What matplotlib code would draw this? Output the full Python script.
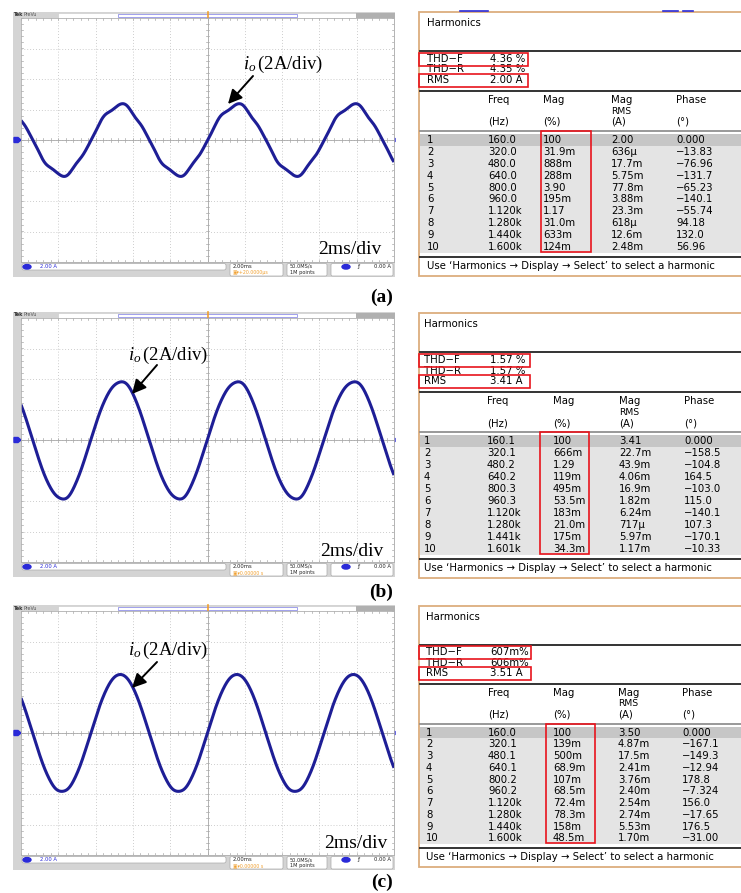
import matplotlib
matplotlib.use("Agg")
import matplotlib.pyplot as plt
from matplotlib.patches import Rectangle, FancyBboxPatch, Ellipse, Polygon
import numpy as np

W, H = 741, 893

# harmonic tables
orders = [str(n) for n in range(1, 11)]

freq_a = ["160.0", "320.0", "480.0", "640.0", "800.0", "960.0", "1.120k", "1.280k", "1.440k", "1.600k"]
mag_a = ["100", "31.9m", "888m", "288m", "3.90", "195m", "1.17", "31.0m", "633m", "124m"]
rms_a = ["2.00", "636µ", "17.7m", "5.75m", "77.8m", "3.88m", "23.3m", "618µ", "12.6m", "2.48m"]
phase_a = ["0.000", "-13.83", "-76.96", "-131.7", "-65.23", "-140.1", "-55.74", "94.18", "132.0", "56.96"]
thd_a = ["4.36 %", "4.35 %", "2.00 A"]

freq_b = ["160.1", "320.1", "480.2", "640.2", "800.3", "960.3", "1.120k", "1.280k", "1.441k", "1.601k"]
mag_b = ["100", "666m", "1.29", "119m", "495m", "53.5m", "183m", "21.0m", "175m", "34.3m"]
rms_b = ["3.41", "22.7m", "43.9m", "4.06m", "16.9m", "1.82m", "6.24m", "717µ", "5.97m", "1.17m"]
phase_b = ["0.000", "-158.5", "-104.8", "164.5", "-103.0", "115.0", "-140.1", "107.3", "-170.1", "-10.33"]
thd_b = ["1.57 %", "1.57 %", "3.41 A"]

freq_c = ["160.0", "320.1", "480.1", "640.1", "800.2", "960.2", "1.120k", "1.280k", "1.440k", "1.600k"]
mag_c = ["100", "139m", "500m", "68.9m", "107m", "68.5m", "72.4m", "78.3m", "158m", "48.5m"]
rms_c = ["3.50", "4.87m", "17.5m", "2.41m", "3.76m", "2.40m", "2.54m", "2.74m", "5.53m", "1.70m"]
phase_c = ["0.000", "-167.1", "-149.3", "-12.94", "178.8", "-7.324", "156.0", "-17.65", "176.5", "-31.00"]
thd_c = ["607m%", "606m%", "3.51 A"]

# fundamental peak as seen on screen (A), scope at 2 A/div, 2 ms/div
peak_a, peak_b, peak_c = 2.3, 3.86, 3.86
delay_a = "+20.0000µs"
delay_b = "0.00000 s"
delay_c = "0.00000 s"

plt.rcParams["mathtext.fontset"] = "custom"
plt.rcParams["mathtext.it"] = "Liberation Serif:italic"
plt.rcParams["mathtext.rm"] = "Liberation Serif"

BLUE = "#1e1e96"
TEK_BLUE = "#2a2ad8"
ORANGE = "#f0a030"
RED = "#e8141c"


def eng(s):
    mult = {"k": 1e3, "m": 1e-3, "µ": 1e-6}
    s = s.strip()
    if s[-1] in mult:
        return float(s[:-1]) * mult[s[-1]]
    return float(s)


def trace(t_ms, freq, mag, phase, peak):
    # phases are cosine phases relative to the fundamental, whose rising zero is at screen centre
    f1 = eng(freq[0])
    tt = t_ms * 1e-3 - 0.25 / f1
    y = np.zeros_like(t_ms)
    for f, m, p in zip(freq, mag, phase):
        y += eng(m) / 100 * np.cos(2 * np.pi * eng(f) * tt + np.radians(float(p)))
    return peak * y


fig = plt.figure(figsize=(W / 100, H / 100), dpi=100)
bg = fig.add_axes([0, 0, 1, 1])
bg.set_xlim(0, W)
bg.set_ylim(H, 0)
bg.axis("off")
fg = fig.add_axes([0, 0, 1, 1], zorder=5)
fg.set_xlim(0, W)
fg.set_ylim(H, 0)
fg.axis("off")
fg.patch.set_alpha(0)


def scope(y0, freq, mag, phase, peak, delay, txt_xy, arr_from, arr_to, div_xy, label, label_y):
    # frame
    bg.add_patch(Rectangle((13, y0), 382, 265, facecolor="#d4d4d4", edgecolor="none"))
    # top bar
    bg.text(14, y0 + 3, "Tek", fontsize=3.6, weight="bold", va="center", color="#333")
    bg.text(24, y0 + 3, "PreVu", fontsize=3.4, va="center", color="#555")
    bg.add_patch(Rectangle((58, y0 + 0.8), 298, 5, facecolor="white", edgecolor="#c8c8c8", lw=0.4))
    bg.add_patch(Rectangle((118, y0 + 1.6), 179, 3.4, facecolor="none", edgecolor="#9090e8", lw=0.6))
    bg.add_patch(Rectangle((356, y0 + 0.8), 39, 5, facecolor="#b0b0b0", edgecolor="none"))
    # status bar
    bg.add_patch(FancyBboxPatch((22, y0 + 251.5), 204, 6.5, boxstyle="round,pad=0,rounding_size=2",
                                facecolor="white", edgecolor="#aaaaaa", lw=0.5))
    bg.add_patch(Ellipse((27, y0 + 254.8), 8, 4.5, color=TEK_BLUE))
    bg.text(40, y0 + 254.8, "2.00 A", fontsize=3.8, color=TEK_BLUE, va="center")
    bg.add_patch(FancyBboxPatch((230, y0 + 251.5), 53, 12.5, boxstyle="round,pad=0,rounding_size=1.5",
                                facecolor="white", edgecolor="#aaaaaa", lw=0.5))
    bg.text(233, y0 + 254.5, "2.00ms", fontsize=3.8, color="#222", va="center")
    bg.text(233, y0 + 260.5, "▣▾" + delay, fontsize=3.4, color=ORANGE, va="center")
    bg.add_patch(FancyBboxPatch((287, y0 + 251.5), 40, 12.5, boxstyle="round,pad=0,rounding_size=1.5",
                                facecolor="white", edgecolor="#aaaaaa", lw=0.5))
    bg.text(290, y0 + 254.5, "50.0MS/s", fontsize=3.6, color="#222", va="center")
    bg.text(290, y0 + 260.5, "1M points", fontsize=3.6, color="#222", va="center")
    bg.add_patch(FancyBboxPatch((331, y0 + 251.5), 62, 12.5, boxstyle="round,pad=0,rounding_size=1.5",
                                facecolor="white", edgecolor="#aaaaaa", lw=0.5))
    bg.add_patch(Ellipse((346, y0 + 254.8), 8, 4.5, color=TEK_BLUE))
    bg.text(357, y0 + 254.8, "ƒ", fontsize=4.2, color="#222", va="center")
    bg.text(391, y0 + 254.8, "0.00 A", fontsize=3.8, color="#222", va="center", ha="right")

    # screen
    ax = fig.add_axes([21 / W, 1 - (y0 + 250) / H, 373 / W, 244 / H], zorder=2)
    ax.set_xlim(-10, 10)
    ax.set_ylim(-8, 8)
    ax.set_xticks([])
    ax.set_yticks([])
    for s in ax.spines.values():
        s.set_color("#b0b0b0")
        s.set_linewidth(0.6)
    for x in np.arange(-8, 9, 2):
        ax.axvline(x, color="#bcbcbc", lw=0.6, ls=(0, (1, 2.5)))
    for y in np.arange(-6, 7, 2):
        ax.axhline(y, color="#bcbcbc", lw=0.6, ls=(0, (1, 2.5)))
    ax.axvline(0, color="#a8a8a8", lw=0.6)
    ax.axhline(0, color="#a8a8a8", lw=0.6)
    for x in np.arange(-10, 10.01, 0.4):
        ax.plot([x, x], [-0.12, 0.12], color="#a8a8a8", lw=0.5)
        ax.plot([x, x], [-8, -7.85], color="#a8a8a8", lw=0.5)
        ax.plot([x, x], [8, 7.85], color="#a8a8a8", lw=0.5)
    for y in np.arange(-8, 8.01, 0.4):
        ax.plot([-0.1, 0.1], [y, y], color="#a8a8a8", lw=0.5)
        ax.plot([-10, -9.9], [y, y], color="#a8a8a8", lw=0.5)
        ax.plot([10, 9.9], [y, y], color="#a8a8a8", lw=0.5)

    t = np.linspace(-10, 10, 2000)
    ax.plot(t, trace(t, freq, mag, phase, peak), color=BLUE, lw=2.2, solid_capstyle="butt")

    # trigger and ground markers
    zy = y0 + 128
    bg.plot([207.5, 207.5], [y0, y0 + 8], color=ORANGE, lw=1.2)
    bg.add_patch(Ellipse((207.5, y0 + 10.5), 4, 4.5, color=ORANGE))
    bg.add_patch(Polygon([[14, zy - 2.5], [18, zy - 2.5], [21, zy], [18, zy + 2.5], [14, zy + 2.5]],
                         closed=True, color=TEK_BLUE))
    bg.add_patch(Polygon([[395, zy - 1.8], [391.5, zy], [395, zy + 1.8]], closed=True, color=TEK_BLUE))

    # annotations
    fg.text(txt_xy[0], txt_xy[1], r"$i_o\,$(2A/div)", fontsize=13.5, family="Liberation Serif",
            va="center", ha="left")
    fg.annotate("", xy=arr_to, xytext=arr_from,
                arrowprops=dict(arrowstyle="-|>,head_length=0.7,head_width=0.35", lw=1.4,
                                color="black", mutation_scale=12, shrinkA=0, shrinkB=0))
    fg.text(div_xy[0], div_xy[1], "2ms/div", fontsize=14, family="Liberation Serif",
            va="center", ha="right")
    fg.text(393, label_y, label, fontsize=14, family="Liberation Serif", weight="bold",
            va="center", ha="right")


def table(top, hgt, cols, thd, freq, mag, rms, phase, thd_r, mag_box):
    k = hgt / 264.0

    def y(d):
        return top + d * k

    fs = 7.25
    tc = "#000000"
    bg.add_patch(Rectangle((419, top), W - 419 + 10, hgt, facecolor="white", edgecolor="#dcae7e", lw=1.3))
    # row backgrounds
    row_y = [y(128) + i * 11.9 * k for i in range(10)]
    bg.add_patch(Rectangle((420, row_y[0] - 6 * k), W - 420, 12 * k, facecolor="#c6c6c6", edgecolor="none"))
    bg.add_patch(Rectangle((420, row_y[1] - 6 * k), W - 420, row_y[9] - row_y[1] + 12 * k,
                           facecolor="#e4e4e4", edgecolor="none"))
    for d, c, lw in [(39, "#333333", 1.4), (79, "#333333", 1.4), (119, "#888888", 1.2), (245, "#333333", 1.4)]:
        bg.plot([420, W], [y(d), y(d)], color=c, lw=lw)

    bg.text(cols[0], y(11), "Harmonics", fontsize=fs, color=tc, va="center")
    for lab, val, d in zip(["THD−F", "THD−R", "RMS"], thd, [47, 57.5, 68]):
        bg.text(cols[0], y(d), lab, fontsize=fs, color=tc, va="center")
        bg.text(490, y(d), val, fontsize=fs, color=tc, va="center")
    heads = [("Freq", "", "(Hz)"), ("Mag", "", "(%)"), ("Mag", "RMS", "(A)"), ("Phase", "", "(°)")]
    for x, (h1, h2, h3) in zip(cols[1:], heads):
        bg.text(x, y(88), h1, fontsize=fs, color=tc, va="center")
        bg.text(x, y(99), h2, fontsize=fs - 0.6, color=tc, va="center")
        bg.text(x, y(110), h3, fontsize=fs, color=tc, va="center")
    for i in range(10):
        vals = [orders[i], freq[i], mag[i], rms[i], phase[i].replace("-", "−")]
        for x, v in zip(cols, vals):
            bg.text(x, row_y[i], v, fontsize=fs, color=tc, va="center")
    bg.text(cols[0], y(254), "Use ‘Harmonics → Display → Select’ to select a harmonic",
            fontsize=fs, color=tc, va="center")

    # red highlight boxes
    for d in [47, 68]:
        fg.add_patch(Rectangle((419, y(d) - 6.5 * k), thd_r - 419, 13 * k, facecolor="none",
                               edgecolor=RED, lw=1.2))
    fg.add_patch(Rectangle((mag_box[0], y(119)), mag_box[1] - mag_box[0], row_y[9] + 5 * k - y(119),
                           facecolor="none", edgecolor=RED, lw=1.2))


scope(12, freq_a, mag_a, phase_a, peak_a, delay_a, (243, 64), (253, 76), (228, 104), (381, 249), "(a)", 297)
scope(312, freq_b, mag_b, phase_b, peak_b, delay_b, (128, 355), (157, 365), (132, 394), (383, 552), "(b)", 592)
scope(605, freq_c, mag_c, phase_c, peak_c, delay_c, (128, 650), (157, 662), (132, 688), (387, 844), "(c)", 882)

table(12, 264, [427, 488, 543, 611, 676], thd_a, freq_a, mag_a, rms_a, phase_a, 528, (541, 591))
table(313, 265, [424, 487, 553, 619, 684], thd_b, freq_b, mag_b, rms_b, phase_b, 530, (540, 589))
table(606, 261, [426, 488, 553, 618, 682], thd_c, freq_c, mag_c, rms_c, phase_c, 531, (546, 595))

# bits of the scope screen visible above the first table
for x0, x1 in [(460, 488), (663, 678), (683, 693)]:
    bg.plot([x0, x1], [10.5, 10.5], color=TEK_BLUE, lw=1.2)

fig.savefig("out.png", dpi=100)
